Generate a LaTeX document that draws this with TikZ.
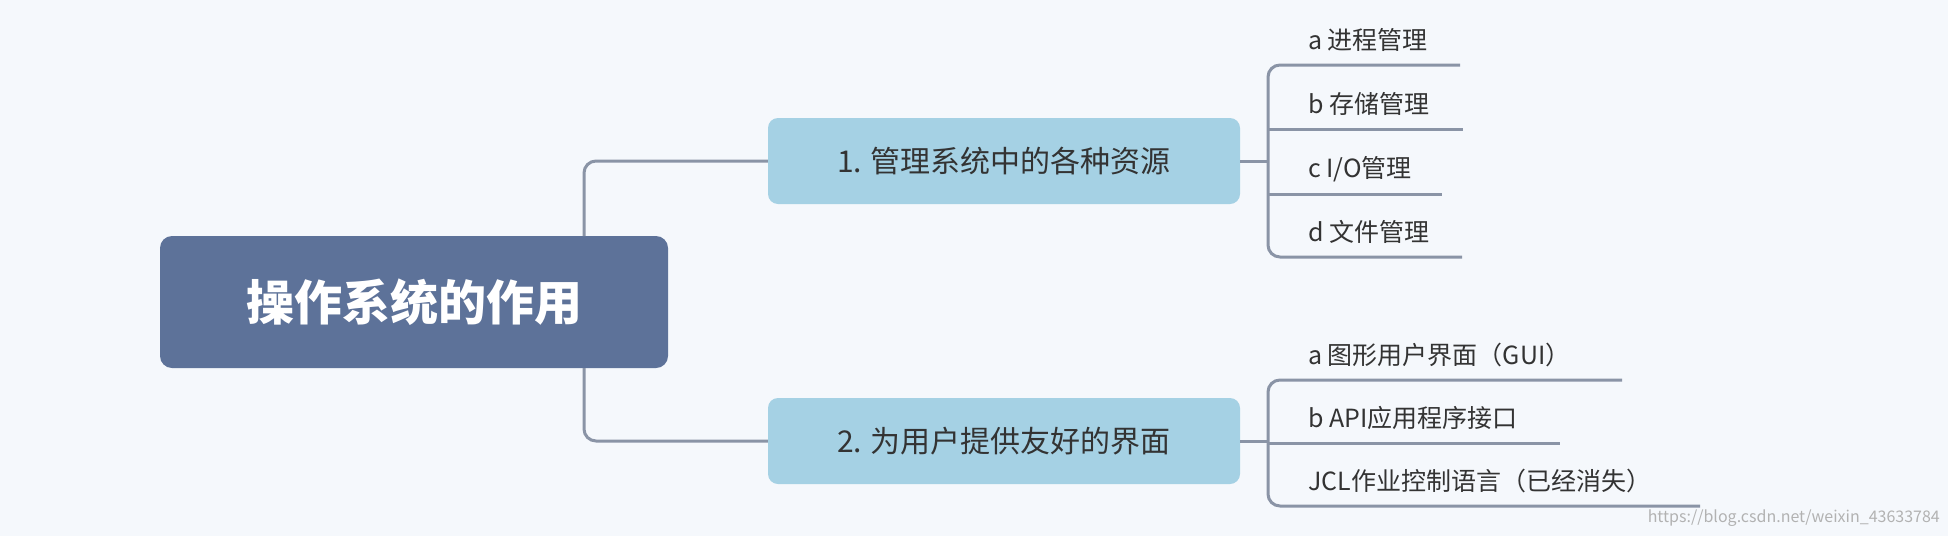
\documentclass[tikz,border=0pt]{standalone}
\usepackage{fontspec}
\setmainfont{Noto Sans CJK SC}
\definecolor{bg}{HTML}{F5F8FC}
\definecolor{rootc}{HTML}{5D7299}
\definecolor{brc}{HTML}{A5D1E4}
\definecolor{linec}{HTML}{8A94A6}
\definecolor{txt}{HTML}{333333}
\begin{document}
\begin{tikzpicture}[x=1pt,y=-1pt,
  conn/.style={draw=linec,line width=3pt,rounded corners=12pt},
  under/.style={draw=linec,line width=3pt},
  branch/.style={fill=brc,rounded corners=10pt,minimum width=472pt,minimum height=86pt,text=txt,font=\fontsize{30}{36}\selectfont},
  leaf/.style={anchor=base west,text=txt,font=\fontsize{25}{30}\selectfont,inner sep=0pt}]
\fill[bg] (0,0) rectangle (1948,536);
\node[fill=rootc,rounded corners=12pt,minimum width=508pt,minimum height=132pt,text=white,font=\fontsize{48}{56}\selectfont\bfseries] (root) at (414,302) {操作系统的作用};
\node[branch] (b1) at (1004,161) {1. 管理系统中的各种资源};
\node[branch] (b2) at (1004,441) {2. 为用户提供友好的界面};
\draw[conn] (584,236) |- (b1.west);
\draw[conn] (584,368) |- (b2.west);
% group 1
\coordinate (j1) at (1268,161);
\draw[under] (b1.east) -- (j1);
\draw[conn] (1460,65) -- (1268,65) -- (1268,257) -- (1462,257);
\draw[under] (1268,129) -- (1463,129);
\draw[under] (1268,194) -- (1442,194);
\node[leaf] (l1) at (1308,49) {a 进程管理};
\node[leaf] (l2) at (1308,113) {b 存储管理};
\node[leaf] (l3) at (1308,177) {c I/O管理};
\node[leaf] (l4) at (1308,241) {d 文件管理};
% group 2
\coordinate (j2) at (1268,441);
\draw[under] (b2.east) -- (j2);
\draw[conn] (1622,380) -- (1268,380) -- (1268,506) -- (1700,506);
\draw[under] (1268,443) -- (1560,443);
\node[leaf] (m1) at (1308,364) {a 图形用户界面（GUI）};
\node[leaf] (m2) at (1308,427) {b API应用程序接口};
\node[leaf] (m3) at (1308,490) {JCL作业控制语言（已经消失）};
\node[anchor=base east,text=black!30,font=\fontsize{16}{18}\selectfont,inner sep=0pt] (wm) at (1940,522) {https://blog.csdn.net/weixin\_43633784};
\end{tikzpicture}
\end{document}
